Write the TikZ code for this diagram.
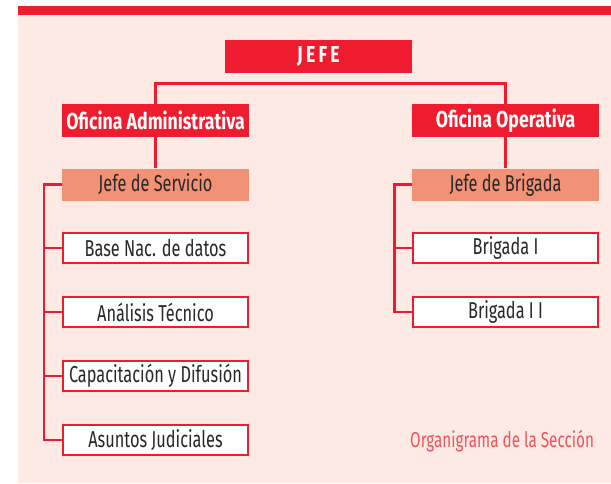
\documentclass[tikz,border=0pt]{standalone}
\usepackage{fontspec}
\setmainfont{Fira Sans}[FakeStretch=0.71]
\newfontfamily\headfont{Fira Sans}[FakeStretch=0.77]
\definecolor{redmain}{HTML}{EE1C2E}
\definecolor{pinkbg}{HTML}{FDEAE4}
\definecolor{salmon}{HTML}{F19176}
\definecolor{darktext}{HTML}{2A2626}
\definecolor{captred}{HTML}{F0525E}
\begin{document}
\begin{tikzpicture}[x=1pt,y=-1pt,
  every node/.style={inner sep=0pt, font=\fontsize{23}{26}\selectfont},
  topbox/.style={fill=redmain, text=white, font=\fontsize{23}{26}\selectfont\headfont\bfseries, minimum width=187pt, minimum height=33pt},
  headbox/.style={fill=salmon, text=darktext, minimum width=187pt, minimum height=32pt},
  unitbox/.style={fill=white, draw=redmain, line width=2.4pt, text=darktext, minimum width=184.5pt, minimum height=29.5pt},
  link/.style={draw=redmain, line width=2.6pt, line join=miter}
]
\useasboundingbox (0,0) rectangle (611,483);
\fill[pinkbg] (18,14) rectangle (611,483);
\fill[redmain] (18,6) rectangle (611,14.7);

\node[topbox] (jefe) at (318.5,56.5) {\addfontfeature{LetterSpace=14}JEFE};
\node[topbox] (oa) at (155.5,120.5) {Oficina Administrativa};
\node[topbox] (oo) at (505.5,120.5) {Oficina Operativa};
\node[headbox] (js) at (155.5,184.5) {Jefe de Servicio};
\node[headbox] (jb) at (505.5,184.5) {Jefe de Brigada};

\node[unitbox] (b1) at (155.5,248) {Base Nac. de datos};
\node[unitbox] (b2) at (155.5,312) {Análisis Técnico};
\node[unitbox] (b3) at (155.5,376) {Capacitación y Difusión};
\node[unitbox] (b4) at (155.5,440) {Asuntos Judiciales};
\node[unitbox] (r1) at (505.5,248) {Brigada I};
\node[unitbox] (r2) at (505.5,312) {Brigada I I};

\node[text=captred, font=\fontsize{21.5}{24}\selectfont, anchor=base west] (cap) at (410,447) {Organigrama de la Sección};

\coordinate (hbar) at (318.5,83.5);
\coordinate (lbt) at (44,184.5);
\coordinate (lbb) at (44,440);
\coordinate (rbt) at (394.5,184.5);
\coordinate (rbb) at (394.5,312);

\draw[link] (oa.north) |- (hbar) -| (oo.north);
\draw[link] (oa.south) -- (js.north);
\draw[link] (oo.south) -- (jb.north);

\draw[link] (js.west) -- (lbt) -- (lbb) -- (b4.west);
\draw[link] (b1.west) -- (b1.west -| lbt);
\draw[link] (b2.west) -- (b2.west -| lbt);
\draw[link] (b3.west) -- (b3.west -| lbt);

\draw[link] (jb.west) -- (rbt) -- (rbb) -- (r2.west);
\draw[link] (r1.west) -- (r1.west -| rbt);
\end{tikzpicture}
\end{document}
